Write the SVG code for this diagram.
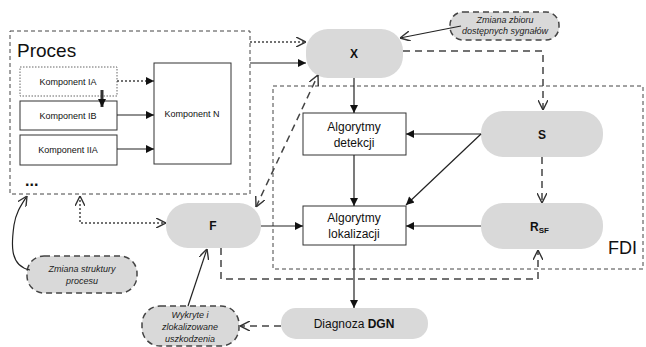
<svg xmlns="http://www.w3.org/2000/svg" width="646" height="347" viewBox="0 0 646 347">
<style>
text{font-family:"Liberation Sans",Arial,sans-serif;fill:#111}
.pill{fill:#d9d9d9;stroke:none}
.call{fill:#d9d9d9;stroke:#444;stroke-width:1.5;stroke-dasharray:6,4}
.box{fill:#fff;stroke:#333;stroke-width:1}
.frame{fill:none;stroke:#444;stroke-width:1;stroke-dasharray:4,3}
.ln{fill:none;stroke:#222;stroke-width:1.2}
.dash{fill:none;stroke:#444;stroke-width:1.5;stroke-dasharray:7,5}
.dot{fill:none;stroke:#444;stroke-width:1.5;stroke-dasharray:2,2}
.it{font-style:italic;font-size:9px;fill:#222}
</style>
<defs>
<marker id="fa" viewBox="0 0 10 10" refX="10" refY="5" markerWidth="10" markerHeight="8" markerUnits="userSpaceOnUse" orient="auto"><path d="M0,0 L10,5 L0,10 z" fill="#111"/></marker>
<marker id="oa" viewBox="0 0 10 10" refX="10" refY="5" markerWidth="10" markerHeight="10" markerUnits="userSpaceOnUse" orient="auto"><path d="M0,0 L10,5 L0,10" fill="none" stroke="#333" stroke-width="1.4"/></marker>
<marker id="oas" viewBox="0 0 10 10" refX="0" refY="5" markerWidth="10" markerHeight="10" markerUnits="userSpaceOnUse" orient="auto"><path d="M10,0 L0,5 L10,10" fill="none" stroke="#333" stroke-width="1.4"/></marker>
</defs>

<g id="proces">
<rect class="frame" x="10" y="31" width="240" height="163"/>
<text x="17" y="57" font-size="19">Proces</text>
<text x="25" y="186" font-size="16" font-weight="bold">...</text>
</g>
<g id="komponent-ia">
<rect x="20" y="67" width="97" height="29" fill="#fff" stroke="#666" stroke-dasharray="1.5,1.5"/>
<text x="68" y="85" font-size="9" text-anchor="middle">Komponent IA</text>
</g>
<g id="komponent-ib">
<rect class="box" x="20" y="101" width="97" height="29"/>
<text x="68" y="119" font-size="9" text-anchor="middle">Komponent IB</text>
</g>
<g id="komponent-iia">
<rect class="box" x="20" y="135" width="97" height="30"/>
<text x="68" y="153" font-size="9" text-anchor="middle">Komponent IIA</text>
</g>
<g id="komponent-n">
<rect class="box" x="154" y="63" width="77" height="101"/>
<text x="192" y="117" font-size="9" text-anchor="middle">Komponent N</text>
</g>

<g id="x-node">
<rect class="pill" x="306" y="29" width="97" height="49" rx="22"/>
<text x="354" y="58" font-size="12" font-weight="bold" text-anchor="middle">X</text>
</g>
<g id="fdi">
<rect class="frame" x="273" y="86" width="370" height="183"/>
<text x="608" y="254" font-size="18">FDI</text>
</g>
<g id="s-node">
<rect class="pill" x="481" y="111" width="122" height="46" rx="22"/>
<text x="542" y="139" font-size="12" font-weight="bold" text-anchor="middle">S</text>
</g>
<g id="rsf-node">
<rect class="pill" x="481" y="203" width="122" height="46" rx="22"/>
<text x="530" y="231" font-size="12" font-weight="bold">R<tspan font-size="8" dy="2">SF</tspan></text>
</g>
<g id="detekcja">
<rect class="box" x="303" y="113" width="103" height="42"/>
<text x="354" y="131" font-size="12" text-anchor="middle">Algorytmy</text>
<text x="354" y="147" font-size="12" text-anchor="middle">detekcji</text>
</g>
<g id="lokalizacja">
<rect class="box" x="303" y="206" width="103" height="39"/>
<text x="354" y="222" font-size="12" text-anchor="middle">Algorytmy</text>
<text x="354" y="238" font-size="12" text-anchor="middle">lokalizacji</text>
</g>
<g id="f-node">
<rect class="pill" x="166" y="203" width="95" height="45" rx="22"/>
<text x="213" y="230" font-size="12" font-weight="bold" text-anchor="middle">F</text>
</g>
<g id="diagnoza">
<rect class="pill" x="281" y="308" width="147" height="31" rx="15"/>
<text x="354" y="328" font-size="12" text-anchor="middle">Diagnoza <tspan font-weight="bold">DGN</tspan></text>
</g>
<g id="zmiana-zbioru">
<rect class="call" x="450" y="12" width="109" height="28" rx="13"/>
<text class="it" x="505" y="23" text-anchor="middle">Zmiana zbioru</text>
<text class="it" x="505" y="34" text-anchor="middle">dostępnych sygnałów</text>
</g>
<g id="zmiana-struktury">
<rect class="call" x="27" y="256" width="110" height="37" rx="17"/>
<text class="it" x="82" y="272" text-anchor="middle">Zmiana struktury</text>
<text class="it" x="82" y="284" text-anchor="middle">procesu</text>
</g>
<g id="wykryte">
<rect class="call" x="142" y="306" width="97" height="40" rx="18"/>
<text class="it" x="190" y="318" text-anchor="middle">Wykryte i</text>
<text class="it" x="190" y="330" text-anchor="middle">zlokalizowane</text>
<text class="it" x="190" y="342" text-anchor="middle">uszkodzenia</text>
</g>

<g id="connectors">
<line class="dot" x1="117" y1="81" x2="154" y2="81" marker-end="url(#fa)" stroke-width="1"/>
<line class="ln" x1="117" y1="115" x2="154" y2="115" marker-end="url(#fa)"/>
<line class="ln" x1="117" y1="149" x2="154" y2="149" marker-end="url(#fa)"/>
<line x1="102" y1="90" x2="102" y2="107" stroke="#333" stroke-width="3" marker-end="url(#fa)"/>
<line class="dot" x1="250" y1="42" x2="306" y2="42" marker-end="url(#oa)"/>
<line class="ln" x1="250" y1="63" x2="306" y2="63" marker-end="url(#fa)"/>
<line class="ln" x1="461" y1="26" x2="400" y2="38" marker-end="url(#oa)"/>
<path class="dash" d="M403,51 H543 V110" marker-end="url(#oa)"/>
<line class="ln" x1="354" y1="78" x2="354" y2="113" marker-end="url(#fa)"/>
<line class="ln" x1="481" y1="134" x2="406" y2="134" marker-end="url(#fa)"/>
<line class="ln" x1="481" y1="134" x2="406" y2="205" marker-end="url(#fa)"/>
<line class="ln" x1="354" y1="155" x2="354" y2="206" marker-end="url(#fa)"/>
<line class="dash" x1="542" y1="157" x2="542" y2="203" marker-end="url(#oa)"/>
<line class="ln" x1="481" y1="226" x2="406" y2="226" marker-end="url(#fa)"/>
<line class="ln" x1="261" y1="226" x2="303" y2="226" marker-end="url(#fa)"/>
<line class="ln" x1="354" y1="245" x2="354" y2="308" marker-end="url(#fa)"/>
<line class="dash" x1="281" y1="326" x2="240" y2="326" marker-end="url(#oa)"/>
<line class="ln" x1="188" y1="306" x2="207" y2="249" marker-end="url(#oa)"/>
<path class="ln" d="M30,270 C8,266 12,240 14,225 C16,212 22,204 27,196" marker-end="url(#oa)"/>
<path class="dot" d="M80,196 V223 H166" marker-start="url(#oas)" marker-end="url(#oa)"/>
<line class="dash" x1="256" y1="207" x2="318" y2="75" marker-start="url(#oas)" marker-end="url(#oa)"/>
<path class="dash" d="M221,248 V279 H538 V250" marker-end="url(#oa)"/>
</g>
</svg>
